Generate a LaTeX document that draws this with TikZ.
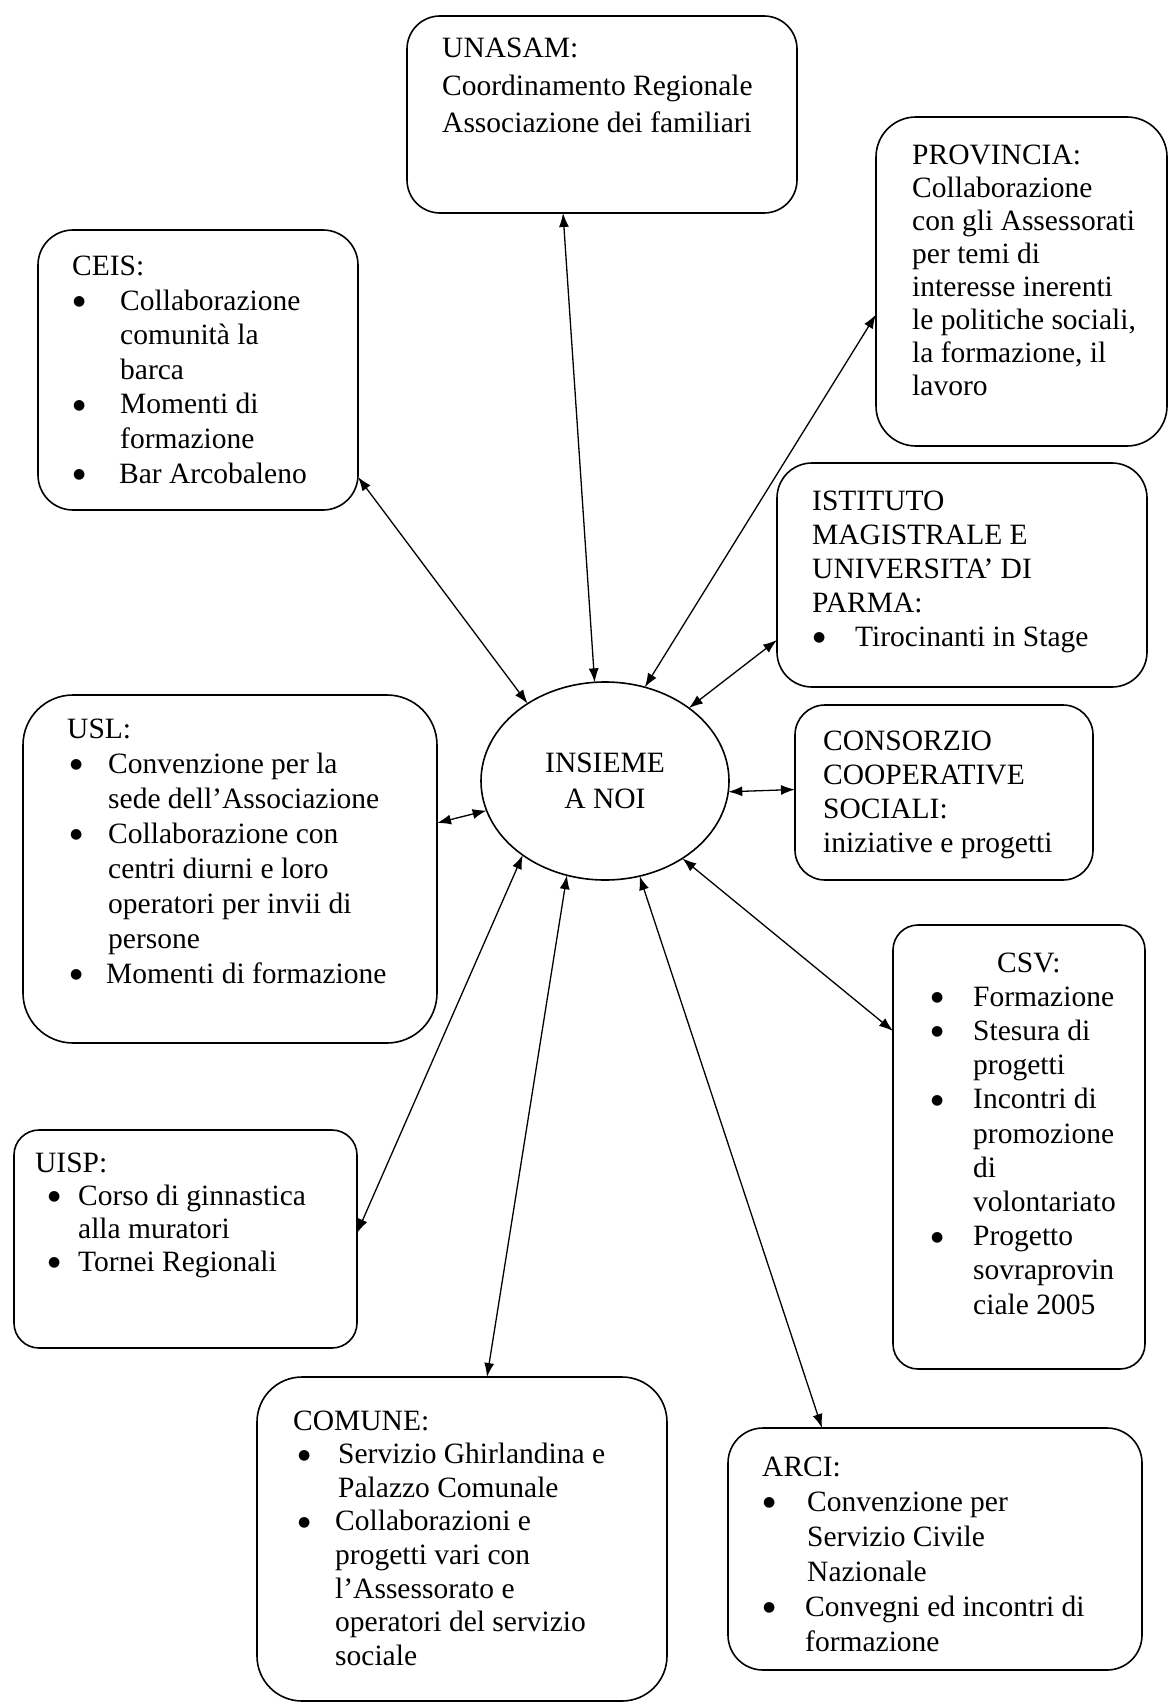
\documentclass[tikz,border=0pt]{standalone}
\usepackage{fontspec}
\setmainfont{Liberation Serif}
\newfontfamily\bulfont{DejaVu Sans}
\usetikzlibrary{shapes.geometric,arrows.meta}
\newcommand\mybul{\raisebox{4.5pt}{\bulfont\fontsize{14}{14}\selectfont ●}}
\newcommand\myitem[3]{\hspace*{#1}\makebox[#2][l]{\mybul}#3}
\newcommand\mycont[2]{\hspace*{#1}#2}
\newcommand\blk[2]{\parbox[t]{420pt}{\fontsize{29.5}{#1}\selectfont\raggedright #2}}
\begin{document}
\begin{tikzpicture}[x=1pt,y=-1pt,
  box/.style={draw,line width=1.6pt,rounded corners=#1,inner sep=0pt,outer sep=0pt,anchor=north west},
  txt/.style={anchor=base west,inner sep=0pt},
  conn/.style={{Latex[length=14pt,width=10pt]}-{Latex[length=14pt,width=10pt]},line width=1.3pt}]
\useasboundingbox[fill=white] (0,0) rectangle (1169,1704);

% boxes
\node[box=33pt,minimum width=390pt,minimum height=197pt] (unasam) at (407,16) {};
\node[box=40pt,minimum width=291pt,minimum height=329pt] (prov) at (876,117) {};
\node[box=35pt,minimum width=320pt,minimum height=280pt] (ceis) at (38,230) {};
\node[box=35pt,minimum width=370pt,minimum height=224pt] (ist) at (777,463) {};
\node[box=30pt,minimum width=298pt,minimum height=175pt] (cons) at (795,705) {};
\node[box=50pt,minimum width=414pt,minimum height=348pt] (usl) at (23,695) {};
\node[box=25pt,minimum width=252pt,minimum height=444pt] (csv) at (893,925) {};
\node[box=25pt,minimum width=343pt,minimum height=218pt] (uisp) at (14,1130) {};
\node[box=45pt,minimum width=410pt,minimum height=324pt] (com) at (257,1377) {};
\node[box=35pt,minimum width=414pt,minimum height=242pt] (arci) at (728,1428) {};

\node[ellipse,draw,line width=1.6pt,minimum width=248pt,minimum height=198pt,inner sep=0pt,outer sep=0pt,
  align=center,font=\fontsize{29.5}{36}\selectfont] (ins) at (605,781) {INSIEME\\A NOI};

% texts
\node[txt] (tunasam) at (442,58) {\blk{37.5}{UNASAM:\\Coordinamento Regionale\\Associazione dei familiari}};
\node[txt] (tprov) at (912,165) {\blk{33}{PROVINCIA:\\Collaborazione\\con gli Assessorati\\per temi di\\interesse inerenti\\le politiche sociali,\\la formazione, il\\lavoro}};
\node[txt] (tceis) at (72,276) {\blk{34.5}{CEIS:\\\myitem{1pt}{47pt}{Collaborazione}\\\mycont{48pt}{comunità la}\\\mycont{48pt}{barca}\\\myitem{1pt}{47pt}{Momenti di}\\\mycont{48pt}{formazione}\\\myitem{1pt}{46pt}{Bar Arcobaleno}}};
\node[txt] (tusl) at (67,738) {\blk{35}{USL:\\\myitem{3pt}{38pt}{Convenzione per la}\\\mycont{41pt}{sede dell'Associazione}\\\myitem{3pt}{38pt}{Collaborazione con}\\\mycont{41pt}{centri diurni e loro}\\\mycont{41pt}{operatori per invii di}\\\mycont{41pt}{persone}\\\myitem{3pt}{36pt}{Momenti di formazione}}};
\node[txt] (tist) at (812,510) {\blk{34}{ISTITUTO\\MAGISTRALE E\\UNIVERSITA' DI\\PARMA:\\\myitem{1pt}{42pt}{Tirocinanti in Stage}}};
\node[txt] (tcons) at (823,750) {\blk{34}{CONSORZIO\\COOPERATIVE\\SOCIALI:\\iniziative e progetti}};
\node[txt] (tcsv) at (931,972) {\blk{34.2}{\hspace*{66pt}CSV:\\\myitem{0pt}{42pt}{Formazione}\\\myitem{0pt}{42pt}{Stesura di}\\\mycont{42pt}{progetti}\\\myitem{0pt}{42pt}{Incontri di}\\\mycont{42pt}{promozione}\\\mycont{42pt}{di}\\\mycont{42pt}{volontariato}\\\myitem{0pt}{42pt}{Progetto}\\\mycont{42pt}{sovraprovin}\\\mycont{42pt}{ciale 2005}}};
\node[txt] (tuisp) at (35,1172) {\blk{33}{UISP:\\\myitem{13pt}{30pt}{Corso di ginnastica}\\\mycont{43pt}{alla muratori}\\\myitem{13pt}{30pt}{Tornei Regionali}}};
\node[txt] (tcom) at (293,1430) {\blk{33.6}{COMUNE:\\\myitem{5pt}{40pt}{Servizio Ghirlandina e}\\\mycont{45pt}{Palazzo Comunale}\\\myitem{5pt}{37pt}{Collaborazioni e}\\\mycont{42pt}{progetti vari con}\\\mycont{42pt}{l'Assessorato e}\\\mycont{42pt}{operatori del servizio}\\\mycont{42pt}{sociale}}};
\node[txt] (tarci) at (762,1476) {\blk{35}{ARCI:\\\myitem{1pt}{44pt}{Convenzione per}\\\mycont{45pt}{Servizio Civile}\\\mycont{45pt}{Nazionale}\\\myitem{1pt}{42pt}{Convegni ed incontri di}\\\mycont{43pt}{formazione}}};

% connectors
\draw[conn] ([xshift=-39pt]unasam.south) -- (ins.96);
\draw[conn] ([yshift=-33pt]prov.west) -- (ins.67);
\draw[conn] ([yshift=-107pt]ceis.east) -- (ins.135);
\draw[conn] ([yshift=-65pt]ist.west) -- (ins.41);
\draw[conn] ([yshift=3pt]cons.west) -- (ins.-5);
\draw[conn] ([yshift=46pt]usl.east) -- (ins.194);
\draw[conn] ([yshift=116pt]csv.west) -- (ins.-45);
\draw[conn] ([yshift=6pt]uisp.east) -- (ins.-138);
\draw[conn] ([xshift=25pt]com.north) -- (ins.-112);
\draw[conn] ([xshift=-113pt]arci.north) -- (ins.-70);
\end{tikzpicture}
\end{document}
